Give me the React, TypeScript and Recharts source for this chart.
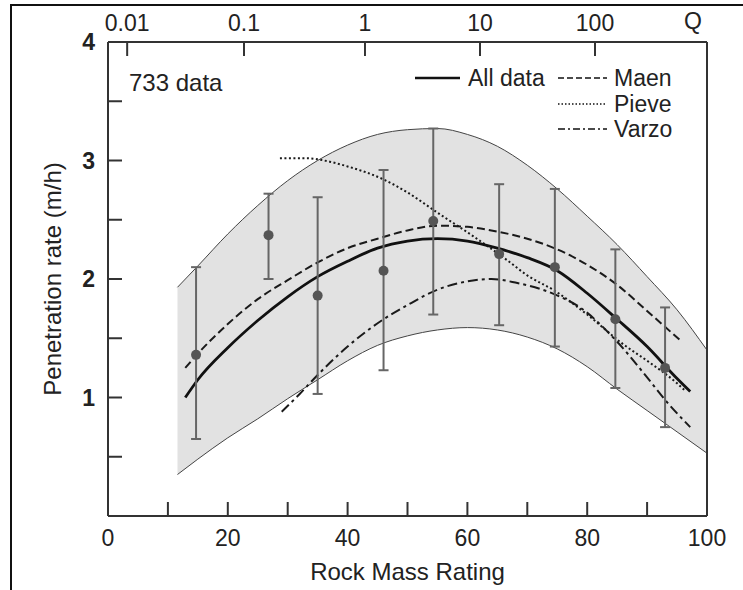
import {
  ComposedChart,
  Area,
  Line,
  Scatter,
  ErrorBar,
  XAxis,
  YAxis,
} from 'recharts';

// shaded envelope (RMR, lower / upper penetration rate)
const bandRmr = [11.6, 15, 20, 25, 30, 35, 40, 45, 50, 55, 60, 65, 70, 75, 80, 85, 90, 95, 100];
const bandLow = [0.35, 0.48, 0.66, 0.82, 0.99, 1.15, 1.31, 1.44, 1.52, 1.57, 1.59, 1.57, 1.51, 1.41, 1.26, 1.07, 0.89, 0.71, 0.53];
const bandHigh = [1.93, 2.11, 2.38, 2.62, 2.83, 3.0, 3.13, 3.22, 3.26, 3.27, 3.22, 3.12, 2.96, 2.76, 2.53, 2.29, 2.02, 1.74, 1.4];

// regression curves
const allRmr = [12.9, 15, 20, 25, 30, 35, 40, 45, 50, 55, 60, 65, 70, 75, 80, 85, 90, 95, 97.2];
const allRate = [1.0, 1.15, 1.42, 1.65, 1.85, 2.02, 2.15, 2.26, 2.32, 2.34, 2.32, 2.26, 2.18, 2.07, 1.88, 1.66, 1.43, 1.16, 1.05];

const maenRmr = [12.9, 15, 20, 25, 30, 35, 40, 45, 50, 55, 60, 65, 70, 75, 80, 85, 90, 95.8];
const maenRate = [1.25, 1.37, 1.62, 1.83, 1.99, 2.14, 2.26, 2.34, 2.41, 2.45, 2.44, 2.4, 2.34, 2.25, 2.12, 1.95, 1.73, 1.47];

const pieveRmr = [28.7, 33, 37, 40, 46, 50, 55, 61, 66.6, 70, 74.6, 80, 86, 90, 95, 96.5];
const pieveRate = [3.02, 3.02, 2.99, 2.95, 2.84, 2.73, 2.56, 2.36, 2.16, 2.03, 1.9, 1.7, 1.45, 1.31, 1.12, 1.05];

const varzoRmr = [29, 32, 35, 40, 46, 50, 55, 60, 64, 68, 74.6, 78.8, 85, 90, 93, 97.2];
const varzoRate = [0.88, 1.03, 1.19, 1.43, 1.66, 1.78, 1.91, 1.98, 2.0, 1.97, 1.87, 1.76, 1.47, 1.17, 0.98, 0.75];

// class means with min/max bars
const pointRmr = [14.7, 26.8, 35.0, 46.0, 54.3, 65.3, 74.6, 84.7, 93.0];
const pointRate = [1.36, 2.37, 1.86, 2.07, 2.49, 2.21, 2.1, 1.66, 1.25];
const pointLow = [0.65, 2.0, 1.03, 1.23, 1.7, 1.61, 1.43, 1.08, 0.75];
const pointHigh = [2.1, 2.72, 2.69, 2.92, 3.27, 2.8, 2.76, 2.25, 1.76];

const xTicks = [0, 10, 20, 30, 40, 50, 60, 70, 80, 90, 100];
const yTicks = [0, 0.5, 1, 1.5, 2, 2.5, 3, 3.5, 4];
// Q scale ticks, placed at their RMR equivalents
const qTickRmr = [3.2, 22.7, 42.9, 62.1, 81.3];
const qTickLabels = ['0.01', '0.1', '1', '10', '100'];

const FONT = '"Liberation Sans", Arial, sans-serif';
const INK = '#222';

const bandData = bandRmr.map((r, i) => ({ rmr: r, range: [bandLow[i], bandHigh[i]] }));
const toRows = (xs: number[], ys: number[]) => xs.map((x, i) => ({ rmr: x, rate: ys[i] }));
const pointData = pointRmr.map((r, i) => ({
  rmr: r,
  rate: pointRate[i],
  err: [pointRate[i] - pointLow[i], pointHigh[i] - pointRate[i]],
}));

const tickStyle = { fontSize: 23, fill: INK, fontFamily: FONT };

const Dot = (props: any) => <circle cx={props.cx} cy={props.cy} r={5} fill="#555" />;

const qLabel = (v: number) => {
  const i = qTickRmr.findIndex((t) => Math.abs(t - v) < 0.01);
  return i >= 0 ? qTickLabels[i] : '';
};

export default function App() {
  return (
    <div style={{ position: 'absolute', left: 0, top: 0, width: 743, height: 590, fontFamily: FONT, background: '#fff' }}>
      <div
        style={{
          position: 'absolute',
          left: 10,
          top: 4,
          right: 0,
          bottom: 0,
          borderLeft: '2px solid #111',
          borderTop: '2px solid #111',
        }}
      />
      <ComposedChart
        width={743}
        height={590}
        data={bandData}
        margin={{ top: 0, right: 26, bottom: 14, left: 48 }}
        style={{ position: 'absolute', left: 0, top: 0 }}
      >
        <XAxis
          dataKey="rmr"
          type="number"
          domain={[0, 100]}
          allowDataOverflow
          ticks={xTicks}
          interval={0}
          height={60}
          tickSize={-14}
          tickMargin={28}
          tickFormatter={(v: number) => (v % 20 === 0 ? String(v) : '')}
          tick={tickStyle}
          axisLine={{ stroke: '#333', strokeWidth: 2 }}
          tickLine={{ stroke: '#333', strokeWidth: 2 }}
          label={{ value: 'Rock Mass Rating', position: 'bottom', offset: -13, fontSize: 24, fill: INK }}
        />
        <XAxis
          xAxisId="top"
          dataKey="rmr"
          orientation="top"
          type="number"
          domain={[0, 100]}
          allowDataOverflow
          ticks={qTickRmr}
          interval={0}
          height={42}
          tickSize={-14}
          tickMargin={25}
          tickFormatter={qLabel}
          tick={tickStyle}
          axisLine={{ stroke: '#333', strokeWidth: 2 }}
          tickLine={{ stroke: '#333', strokeWidth: 2 }}
          label={{ value: 'Q', position: 'insideRight', offset: 5, fontSize: 23, fill: INK }}
        />
        <YAxis
          type="number"
          domain={[0, 4]}
          allowDataOverflow
          ticks={yTicks}
          interval={0}
          width={60}
          tickSize={-14}
          tickMargin={27}
          tickFormatter={(v: number) => (v % 1 === 0 && v > 0 ? String(v) : '')}
          tick={{ ...tickStyle, fontWeight: 'bold' }}
          axisLine={{ stroke: '#333', strokeWidth: 2 }}
          tickLine={{ stroke: '#333', strokeWidth: 2 }}
          label={{
            value: 'Penetration rate (m/h)',
            angle: -90,
            position: 'insideLeft',
            offset: 4,
            fontSize: 24,
            fill: INK,
            style: { textAnchor: 'middle' },
          }}
        />
        <YAxis
          yAxisId="r"
          orientation="right"
          type="number"
          domain={[0, 4]}
          allowDataOverflow
          ticks={yTicks}
          interval={0}
          width={10}
          tickSize={-14}
          tick={false}
          axisLine={{ stroke: '#333', strokeWidth: 2 }}
          tickLine={{ stroke: '#333', strokeWidth: 2 }}
        />
        <Area
          xAxisId="top"
          yAxisId="r"
          type="monotone"
          dataKey="range"
          fill="#e2e2e2"
          fillOpacity={1}
          stroke="#444"
          strokeWidth={1}
          dot={false}
          activeDot={false}
          isAnimationActive={false}
        />
        <Line
          data={toRows(maenRmr, maenRate)}
          type="monotone"
          dataKey="rate"
          stroke="#1a1a1a"
          strokeWidth={2}
          strokeDasharray="8 4"
          dot={false}
          activeDot={false}
          isAnimationActive={false}
        />
        <Line
          data={toRows(pieveRmr, pieveRate)}
          type="monotone"
          dataKey="rate"
          stroke="#1a1a1a"
          strokeWidth={2}
          strokeDasharray="2 2.5"
          dot={false}
          activeDot={false}
          isAnimationActive={false}
        />
        <Line
          data={toRows(varzoRmr, varzoRate)}
          type="monotone"
          dataKey="rate"
          stroke="#1a1a1a"
          strokeWidth={2}
          strokeDasharray="10 4 3 4"
          dot={false}
          activeDot={false}
          isAnimationActive={false}
        />
        <Line
          data={toRows(allRmr, allRate)}
          type="monotone"
          dataKey="rate"
          stroke="#111"
          strokeWidth={2.8}
          dot={false}
          activeDot={false}
          isAnimationActive={false}
        />
        <Scatter data={pointData} dataKey="rate" shape={Dot} isAnimationActive={false}>
          <ErrorBar dataKey="err" direction="y" width={5} stroke="#666" strokeWidth={2} />
        </Scatter>
      </ComposedChart>
      <svg
        width={743}
        height={590}
        style={{ position: 'absolute', left: 0, top: 0, pointerEvents: 'none' }}
        fontFamily={FONT}
        fill={INK}
      >
        <text x={129} y={91} fontSize={24}>733 data</text>
        <line x1={415} y1={78} x2={460} y2={78} stroke="#111" strokeWidth={2.5} />
        <text x={468} y={86} fontSize={23}>All data</text>
        <line x1={558} y1={78} x2={607} y2={78} stroke="#111" strokeWidth={1.5} strokeDasharray="6 3" />
        <text x={614} y={86} fontSize={23}>Maen</text>
        <line x1={558} y1={104} x2={607} y2={104} stroke="#111" strokeWidth={1.5} strokeDasharray="1.5 2" />
        <text x={614} y={112} fontSize={23}>Pieve</text>
        <line x1={558} y1={129} x2={607} y2={129} stroke="#111" strokeWidth={1.5} strokeDasharray="7 3 2 3" />
        <text x={614} y={137} fontSize={23}>Varzo</text>
      </svg>
    </div>
  );
}
